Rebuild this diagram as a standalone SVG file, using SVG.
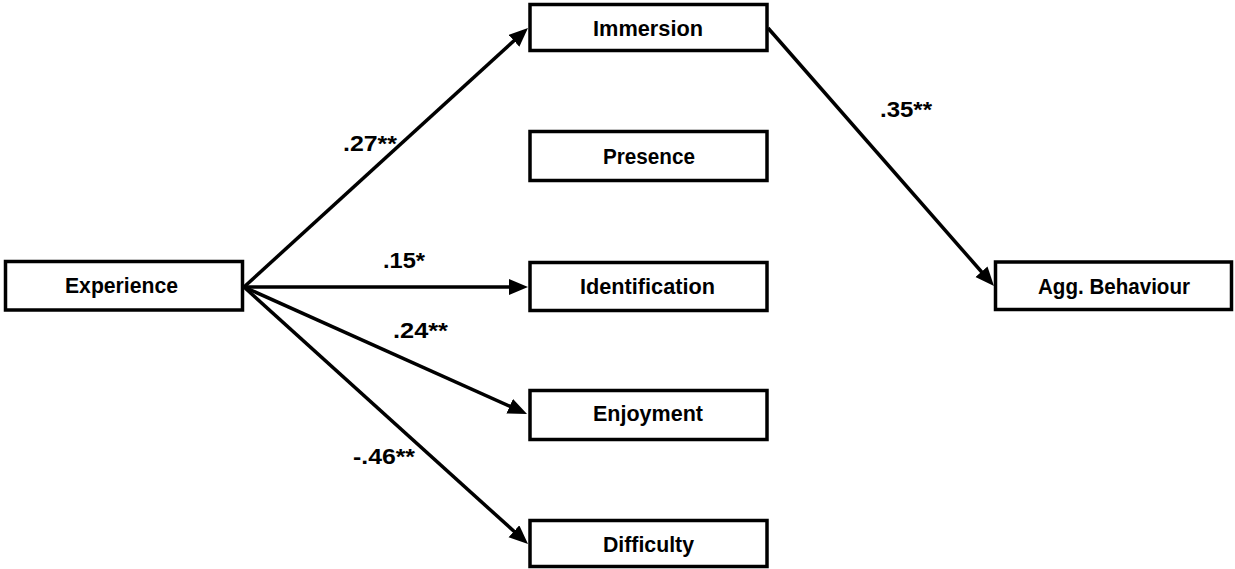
<svg xmlns="http://www.w3.org/2000/svg" width="1235" height="569" viewBox="0 0 1235 569">
<style>
.box{fill:#fff;stroke:#000;stroke-width:3.5}
.t{font-family:"Liberation Sans",Arial,sans-serif;font-weight:bold;font-size:22.5px;fill:#000;text-anchor:middle}
.c{stroke:#000;stroke-width:3.5;fill:none;marker-end:url(#ah)}
</style>
<defs>
<marker id="ah" markerUnits="userSpaceOnUse" markerWidth="22" markerHeight="18" refX="9" refY="8" orient="auto">
<path d="M0,0 L19,8 L0,16 z" fill="#000"/>
</marker>
</defs>
<rect width="1235" height="569" fill="#fff"/>
<g id="connectors">
<line class="c" x1="244" y1="287" x2="520.6" y2="34.7"/>
<line class="c" x1="244" y1="287" x2="518" y2="287"/>
<line class="c" x1="244" y1="287" x2="517.9" y2="409.9"/>
<line class="c" x1="244" y1="287" x2="520.6" y2="537.3"/>
<line class="c" x1="768" y1="28" x2="987.4" y2="278.5"/>
<text class="t" x="370" y="151" textLength="54" lengthAdjust="spacingAndGlyphs">.27**</text>
<text class="t" x="404" y="268" textLength="42" lengthAdjust="spacingAndGlyphs">.15*</text>
<text class="t" x="420.5" y="338" textLength="55" lengthAdjust="spacingAndGlyphs">.24**</text>
<text class="t" x="384" y="464" textLength="62" lengthAdjust="spacingAndGlyphs">-.46**</text>
<text class="t" x="906" y="117" textLength="52" lengthAdjust="spacingAndGlyphs">.35**</text>
</g>
<g id="experience"><rect class="box" x="5.5" y="261.5" width="237" height="48.5"/><text class="t" x="121.5" y="293" textLength="113" lengthAdjust="spacingAndGlyphs">Experience</text></g>
<g id="immersion"><rect class="box" x="530" y="4.5" width="237" height="46"/><text class="t" x="648" y="35.5" textLength="110" lengthAdjust="spacingAndGlyphs">Immersion</text></g>
<g id="presence"><rect class="box" x="530" y="131.5" width="237" height="49"/><text class="t" x="649" y="163.5" textLength="92" lengthAdjust="spacingAndGlyphs">Presence</text></g>
<g id="identification"><rect class="box" x="530" y="262.5" width="237" height="48"/><text class="t" x="647.5" y="293.5" textLength="135" lengthAdjust="spacingAndGlyphs">Identification</text></g>
<g id="enjoyment"><rect class="box" x="530" y="390.5" width="237" height="49"/><text class="t" x="648" y="421" textLength="110" lengthAdjust="spacingAndGlyphs">Enjoyment</text></g>
<g id="difficulty"><rect class="box" x="530" y="520.5" width="237" height="46"/><text class="t" x="648.5" y="551.5" textLength="91" lengthAdjust="spacingAndGlyphs">Difficulty</text></g>
<g id="agg-behaviour"><rect class="box" x="995.5" y="262" width="236" height="47.5"/><text class="t" x="1114" y="293.5" textLength="152" lengthAdjust="spacingAndGlyphs">Agg. Behaviour</text></g>
</svg>
